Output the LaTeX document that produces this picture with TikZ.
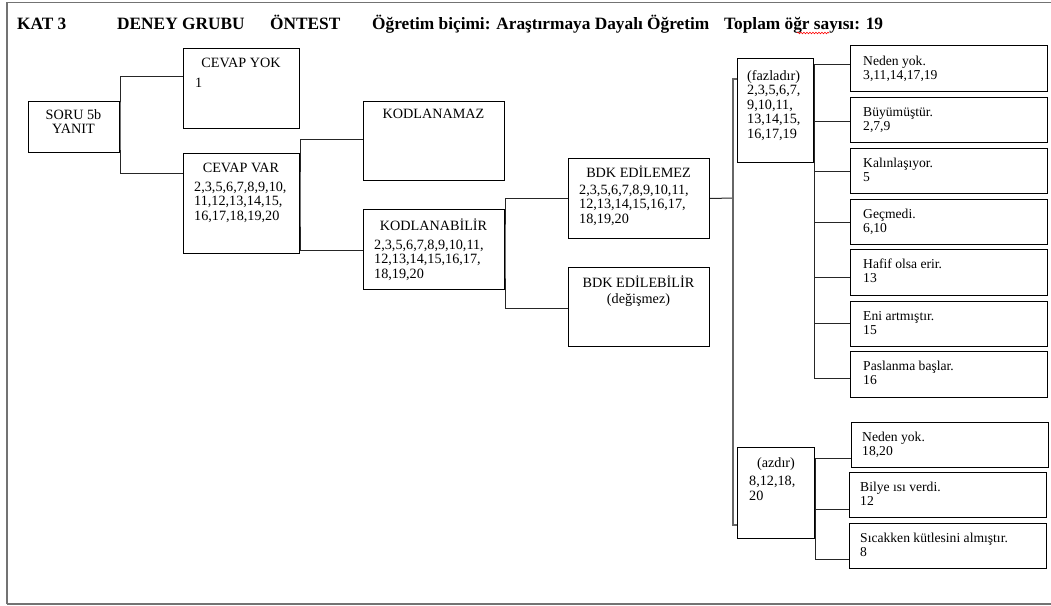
\documentclass[tikz,border=0pt]{standalone}
\usepackage{fontspec}
\setmainfont{Liberation Serif}
\usetikzlibrary{decorations.pathmorphing}
\tikzset{
  x=1pt, y=-1pt,
  box/.style={draw=black, line width=1pt, inner sep=0pt, anchor=north west, fill=white},
  conn/.style={draw=black!85, line width=1pt},
  ttl/.style={anchor=base, inner sep=0pt, font=\fontsize{14.2}{14.5}\selectfont},
  lst/.style={anchor=base west, inner sep=0pt, align=left, font=\fontsize{14.2}{14.5}\selectfont},
  rtx/.style={anchor=base west, inner sep=0pt, align=left, font=\fontsize{13.6}{14.5}\selectfont},
  hdr/.style={anchor=base west, inner sep=0pt, font=\fontsize{17.3}{18}\selectfont\bfseries},
}
\newcommand\bx[5]{\node[box, minimum width=#4pt, minimum height=#5pt] (#1) at (#2,#3) {};}
\begin{document}
\begin{tikzpicture}
\useasboundingbox (0,0) rectangle (1051,605);
% frame
\draw[draw=black!55, line width=1pt] (1060,2) -- (7,2);
\draw[draw=black!55, line width=2pt] (7,2) -- (7,604);
\draw[draw=black!55, line width=1.5pt] (7,604) -- (1060,604);
% header
\node[hdr] (h1) at (17,29) {KAT 3};
\node[hdr] (h2) at (117,29) {DENEY GRUBU};
\node[hdr] (h3) at (270,29) {ÖNTEST};
\node[hdr] (h4) at (372,29) {Öğretim biçimi: Araştırmaya Dayalı Öğretim};
\node[hdr] (h5) at (724,29) {Toplam öğr sayısı: 19};
\draw[red, line width=0.6pt, decorate, decoration={snake, amplitude=0.8pt, segment length=3pt}] (797,33) -- (829,33);
% boxes
\bx{soru}{28}{101}{91}{51}
\bx{cy}{183}{48}{116}{80}
\bx{cv}{183}{153}{116}{100}
\bx{kz}{363}{101}{141}{79}
\bx{kb}{363}{209}{141}{80}
\bx{be}{568}{158}{141}{80}
\bx{bb}{568}{267}{141}{79}
\bx{fz}{737}{58}{76}{104}
\bx{az}{737}{447}{77}{91}
\bx{r1}{850}{45}{197}{46}
\bx{r2}{850}{97}{197}{45}
\bx{r3}{850}{148}{197}{45}
\bx{r4}{850}{199}{197}{45}
\bx{r5}{850}{249}{197}{46}
\bx{r6}{850}{301}{197}{45}
\bx{r7}{850}{351}{197}{46}
\bx{a1}{851}{422}{197}{45}
\bx{a2}{849}{472}{197}{45}
\bx{a3}{849}{523}{197}{45}
% connectors
\draw[conn] ([yshift=-28pt]cy.north west) -| (soru.east) |- ([yshift=-20pt]cv.north west);
\draw[conn] ([yshift=-38pt]kz.north west) -| (cv.east) |- ([yshift=-41pt]kb.north west);
\draw[conn] ([yshift=-40pt]be.north west) -| (kb.east) |- ([yshift=-41pt]bb.north west);
\coordinate (j) at (733,198);
\draw[conn] (be.east) -- (j);
\draw[conn, draw=black!60, line width=1.5pt] ([yshift=-21pt]fz.north west) -| (j) |- ([yshift=-78pt]az.north west);
\draw[conn] ([yshift=-19pt]r1.north west) -| (fz.east) |- ([yshift=-27pt]r7.north west);
\foreach \n/\o in {r2/24, r3/23, r4/23, r5/28, r6/22} {
  \path ([yshift=-\o pt]\n.north west) coordinate (c\n);
  \draw[conn] (c\n) -- (fz.east |- c\n);
}
\draw[conn] ([yshift=-36pt]a1.north west) -| (az.east) |- ([yshift=-36pt]a3.north west);
\path ([yshift=-37pt]a2.north west) coordinate (ca2);
\draw[conn] (ca2) -- (az.east |- ca2);
% texts (base of multi-line nodes = last line)
\node[ttl, align=center] (soruT) at (73.5,133.5) {SORU 5b\\YANIT};
\node[ttl] (cyT) at (241,67) {CEVAP YOK};
\node[lst] (cyL) at (195,87) {1};
\node[ttl] (cvT) at (241,172) {CEVAP VAR};
\node[lst] (cvL) at (194,220) {2,3,5,6,7,8,9,10,\\11,12,13,14,15,\\16,17,18,19,20};
\node[ttl] (kzT) at (433.5,118) {KODLANAMAZ};
\node[ttl] (kbT) at (433.5,230) {KODLANABİLİR};
\node[lst] (kbL) at (374,278) {2,3,5,6,7,8,9,10,11,\\12,13,14,15,16,17,\\18,19,20};
\node[ttl] (beT) at (638.5,177) {BDK EDİLEMEZ};
\node[lst] (beL) at (579,223) {2,3,5,6,7,8,9,10,11,\\12,13,14,15,16,17,\\18,19,20};
\node[ttl] (bbT) at (638.5,287) {BDK EDİLEBİLİR};
\node[ttl] (bbL) at (638.5,303) {(değişmez)};
\node[lst] (fzL) at (747,138) {(fazladır)\\2,3,5,6,7,\\9,10,11,\\13,14,15,\\16,17,19};
\node[ttl] (azT) at (776,467) {(azdır)};
\node[lst] (azL) at (749,500) {8,12,18,\\20};
\node[rtx] (r1T) at (863,79.5) {Neden yok.\\3,11,14,17,19};
\node[rtx] (r2T) at (863,130.5) {Büyümüştür.\\2,7,9};
\node[rtx] (r3T) at (863,181.5) {Kalınlaşıyor.\\5};
\node[rtx] (r4T) at (863,232.5) {Geçmedi.\\6,10};
\node[rtx] (r5T) at (863,282.5) {Hafif olsa erir.\\13};
\node[rtx] (r6T) at (863,334.5) {Eni artmıştır.\\15};
\node[rtx] (r7T) at (863,384.5) {Paslanma başlar.\\16};
\node[rtx] (a1T) at (862,455.5) {Neden yok.\\18,20};
\node[rtx] (a2T) at (860,505.5) {Bilye ısı verdi.\\12};
\node[rtx] (a3T) at (860,556.5) {Sıcakken kütlesini almıştır.\\8};
\end{tikzpicture}
\end{document}
